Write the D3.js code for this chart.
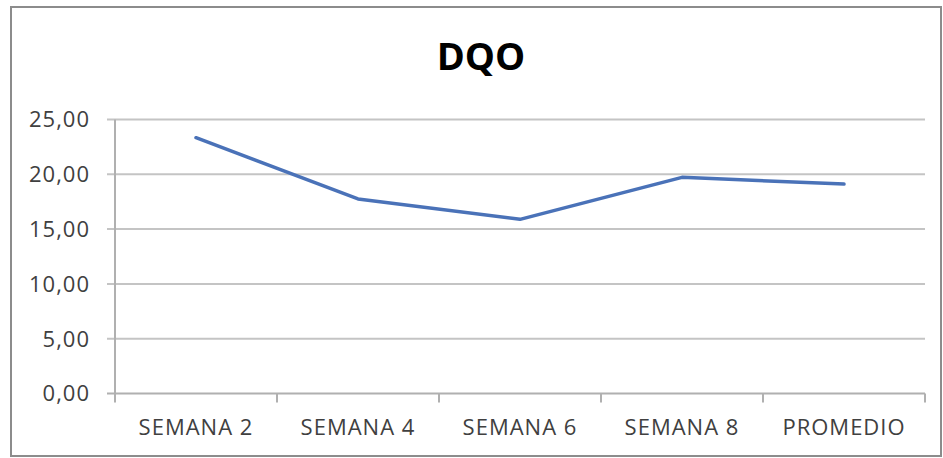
<!DOCTYPE html>
<html>
<head>
<meta charset="utf-8">
<script src="https://cdn.jsdelivr.net/npm/d3@7"></script>
<style>
  html, body { margin: 0; padding: 0; background: #ffffff; }
  svg { display: block; }
  text { font-family: "Open Sans", "Liberation Sans", sans-serif; }
</style>
</head>
<body>
<svg id="chart" width="943" height="458"></svg>
<script>
// DQO weekly values
const categories = ["SEMANA 2", "SEMANA 4", "SEMANA 6", "SEMANA 8", "PROMEDIO"];
const dqoValues = [23.34, 17.75, 15.89, 19.72, 19.11];
const yTicks = [0, 5, 10, 15, 20, 25];
const chartTitle = "DQO";

const width = 943, height = 458;
const margin = { top: 119.5, right: 18, bottom: 64.5, left: 115 };

const svg = d3.select("#chart");

// outer chart frame
svg.append("rect")
  .attr("x", 11).attr("y", 7)
  .attr("width", 930).attr("height", 449)
  .attr("fill", "#ffffff")
  .attr("stroke", "#8c8c8c")
  .attr("stroke-width", 2);

const x = d3.scaleBand()
  .domain(categories)
  .range([margin.left, width - margin.right])
  .paddingInner(0).paddingOuter(0);

const y = d3.scaleLinear()
  .domain([0, 25])
  .range([height - margin.bottom, margin.top]);

const fmt = d => d3.format(".2f")(d).replace(".", ",");

// horizontal gridlines with tick stubs
svg.append("g")
  .selectAll("line")
  .data(yTicks)
  .join("line")
  .attr("x1", margin.left - 8)
  .attr("x2", width - margin.right)
  .attr("y1", d => y(d))
  .attr("y2", d => y(d))
  .attr("stroke", d => d === 0 ? "#b0b0b0" : "#c4c4c4")
  .attr("stroke-width", 2);

// y axis line
svg.append("line")
  .attr("x1", margin.left).attr("x2", margin.left)
  .attr("y1", y(25)).attr("y2", y(0))
  .attr("stroke", "#b0b0b0")
  .attr("stroke-width", 2);

// y tick labels
svg.append("g")
  .selectAll("text")
  .data(yTicks)
  .join("text")
  .attr("x", 90)
  .attr("y", d => y(d))
  .attr("dy", "0.36em")
  .attr("text-anchor", "end")
  .attr("font-size", 22)
  .attr("letter-spacing", 1)
  .attr("fill", "#404040")
  .text(fmt);

// x tick marks at band boundaries
const boundaries = categories.map(c => x(c)).concat([x(categories[categories.length - 1]) + x.bandwidth()]);
svg.append("g")
  .selectAll("line")
  .data(boundaries)
  .join("line")
  .attr("x1", d => d).attr("x2", d => d)
  .attr("y1", y(0)).attr("y2", y(0) + 9)
  .attr("stroke", "#b0b0b0")
  .attr("stroke-width", 2);

// x category labels
svg.append("g")
  .selectAll("text")
  .data(categories)
  .join("text")
  .attr("x", d => x(d) + x.bandwidth() / 2)
  .attr("y", 435)
  .attr("text-anchor", "middle")
  .attr("font-size", 22)
  .attr("letter-spacing", 1)
  .attr("fill", "#404040")
  .text(d => d);

// series line
const line = d3.line()
  .x((d, i) => x(categories[i]) + x.bandwidth() / 2)
  .y(d => y(d));

svg.append("path")
  .datum(dqoValues)
  .attr("d", line)
  .attr("fill", "none")
  .attr("stroke", "#4a72b8")
  .attr("stroke-width", 3.5)
  .attr("stroke-linejoin", "round")
  .attr("stroke-linecap", "round");

// title
svg.append("text")
  .attr("x", 481)
  .attr("y", 70)
  .attr("text-anchor", "middle")
  .attr("font-size", 38)
  .attr("font-weight", "bold")
  .attr("fill", "#000000")
  .text(chartTitle);
</script>
</body>
</html>
